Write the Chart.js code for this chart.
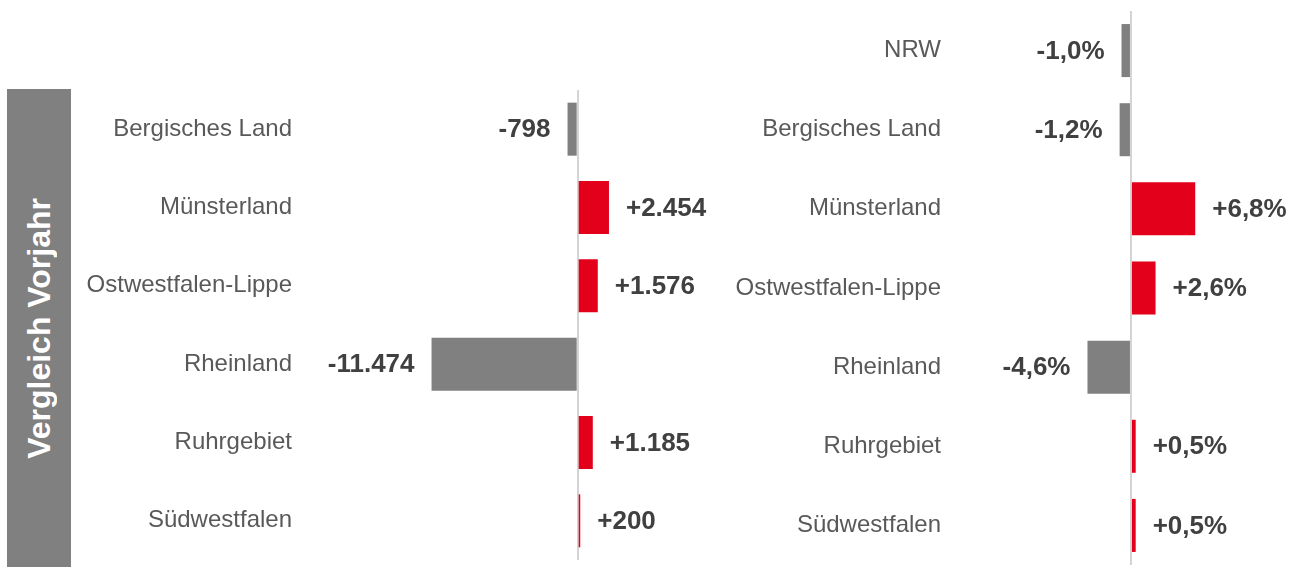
<!DOCTYPE html>
<html>
<head>
<meta charset="utf-8">
<script src="https://cdn.jsdelivr.net/npm/chart.js@4"></script>
<style>
  body { margin: 0; background: #fff; width: 1303px; height: 567px; overflow: hidden; position: relative; font-family: "Liberation Sans", Arial, sans-serif; }
  #band { position: absolute; left: 7px; top: 89px; width: 64px; height: 478px; background: #808080; display: flex; align-items: center; justify-content: center; }
  #band span { writing-mode: vertical-rl; transform: rotate(180deg); color: #fff; font-weight: bold; font-size: 32px; white-space: nowrap; }
  canvas { position: absolute; top: 0; }
</style>
</head>
<body>
<div id="band"><span>Vergleich Vorjahr</span></div>
<canvas id="chart_abs" width="720" height="567" style="left:0"></canvas>
<canvas id="chart_pct" width="583" height="567" style="left:720px"></canvas>
<script>
// data
const regions = ['Bergisches Land', 'Münsterland', 'Ostwestfalen-Lippe', 'Rheinland', 'Ruhrgebiet', 'Südwestfalen']
const diffAbs = [-798, 2454, 1576, -11474, 1185, 200]
const regionsPct = ['NRW', 'Bergisches Land', 'Münsterland', 'Ostwestfalen-Lippe', 'Rheinland', 'Ruhrgebiet', 'Südwestfalen']
const diffPct = [-1.0, -1.2, 6.8, 2.6, -4.6, 0.5, 0.5]

const red = '#E2001A'
const grey = '#808080'

Chart.defaults.font.family = '"Liberation Sans", Arial, sans-serif'
Chart.defaults.animation = false

function fmtAbs(v){
    let s = Math.abs(v).toString().replace(/\B(?=(\d{3})+(?!\d))/g, '.')
    return (v < 0 ? '-' : '+') + s
}
function fmtPct(v){
    return (v < 0 ? '-' : '+') + Math.abs(v).toFixed(1).replace('.', ',') + '%'
}

// labels at the bar ends
const valueLabels = {
    id: 'valueLabels',
    afterDatasetsDraw(chart, args, opts){
        const ctx = chart.ctx
        const meta = chart.getDatasetMeta(0)
        const data = chart.data.datasets[0].data
        ctx.save()
        ctx.font = 'bold 26px "Liberation Sans", Arial, sans-serif'
        ctx.fillStyle = '#404040'
        ctx.textBaseline = 'middle'
        meta.data.forEach((bar, i) => {
            const v = data[i]
            if (v < 0) {
                ctx.textAlign = 'right'
                ctx.fillText(opts.fmt(v), bar.x - 17, bar.y + 1)
            } else {
                ctx.textAlign = 'left'
                ctx.fillText(opts.fmt(v), bar.x + 17, bar.y + 1)
            }
        })
        ctx.restore()
    }
}

function make_chart(id, labels, values, cfg){
    return new Chart(document.getElementById(id), {
        type: 'bar',
        data: {
            labels: labels,
            datasets: [{
                data: values,
                backgroundColor: values.map(v => v < 0 ? grey : red),
                borderWidth: 0,
                barPercentage: 1,
                categoryPercentage: cfg.catPct,
            }]
        },
        options: {
            indexAxis: 'y',
            responsive: false,
            layout: { padding: cfg.padding },
            scales: {
                x: {
                    min: cfg.min,
                    max: cfg.max,
                    afterBuildTicks: s => { s.ticks = [{ value: 0 }] },
                    afterFit: s => { s.height = 0; s.paddingLeft = 0; s.paddingRight = 0 },
                    ticks: { display: false },
                    border: { display: false },
                    grid: { color: '#d4d4d4', lineWidth: 2, drawTicks: false },
                },
                y: {
                    afterFit: s => { s.width = cfg.axisWidth; s.paddingTop = 0; s.paddingBottom = 0 },
                    ticks: {
                        autoSkip: false,
                        padding: 8,
                        color: '#595959',
                        font: { size: 24 },
                    },
                    border: { display: false },
                    grid: { display: false, drawTicks: false },
                },
            },
            plugins: {
                legend: { display: false },
                tooltip: { enabled: false },
                valueLabels: { fmt: cfg.fmt },
            }
        },
        plugins: [valueLabels]
    })
}

make_chart('chart_abs', regions, diffAbs, {
    catPct: 0.677, padding: { top: 90, bottom: 7, left: 0, right: 0 },
    min: -21800, max: 11170, axisWidth: 300, fmt: fmtAbs
})
make_chart('chart_pct', regionsPct, diffPct, {
    catPct: 0.67, padding: { top: 11, bottom: 2, left: 0, right: 0 },
    min: -19.25, max: 18.2, axisWidth: 229, fmt: fmtPct
})
</script>
</body>
</html>
